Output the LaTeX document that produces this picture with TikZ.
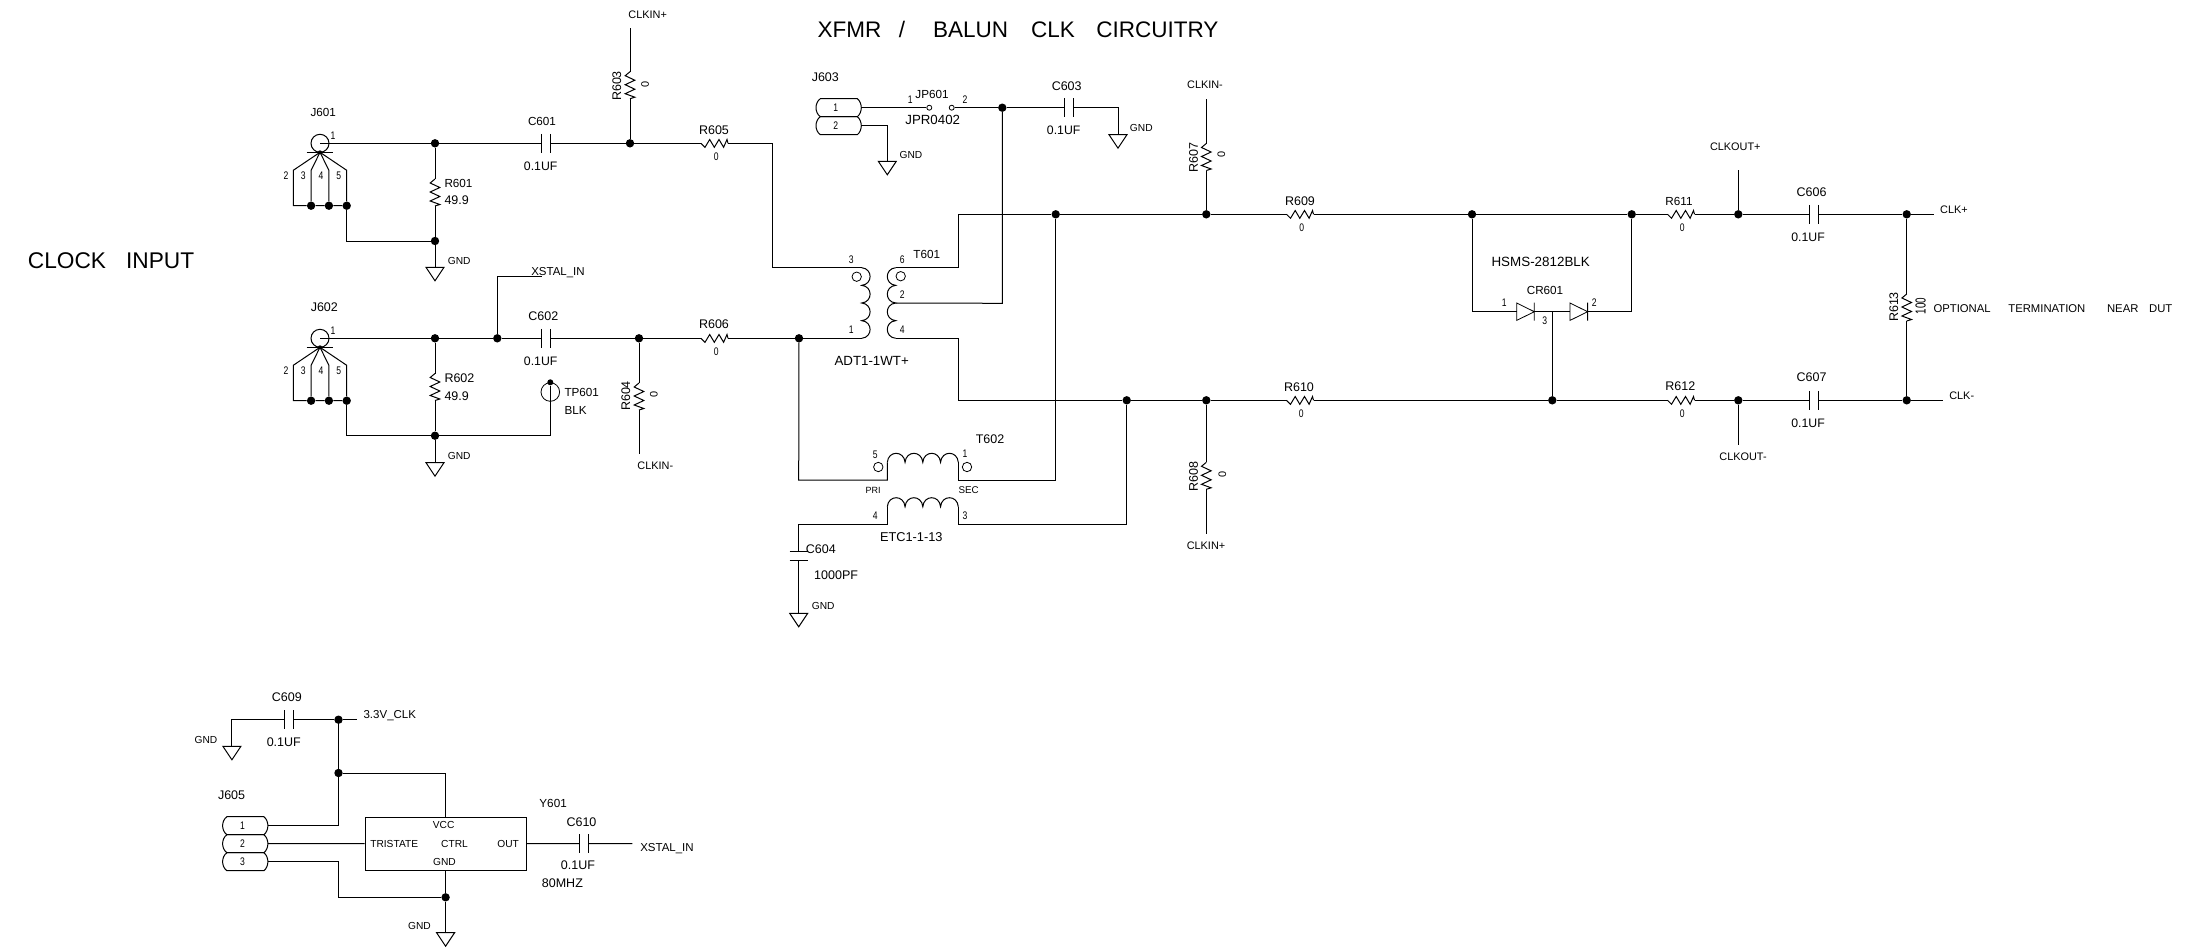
\documentclass[tikz,border=0pt]{standalone}
\usepackage{fontspec}
\setmainfont{Liberation Sans}
\newcounter{tn}
\newcommand\putlab[3]{\stepcounter{tn}\node[#1] (t\arabic{tn}) at (#2) {#3};}
\newcommand\pinn[1]{\scalebox{.78}[1]{#1}}
\tikzset{
  wire/.style={line width=1pt,line join=miter},
  junc/.style={circle,fill=black,draw=none,inner sep=0pt,minimum size=8.4pt},
  opin/.style={circle,draw,fill=white,line width=.8pt,inner sep=0pt,minimum size=#1},
  lab/.style={inner sep=0pt,font=\fontsize{12.5}{13}\selectfont,text height=9pt,text depth=0pt},
  labn/.style={lab,font=\fontsize{11.7}{12}\selectfont},
  val/.style={lab,font=\fontsize{12.3}{13}\selectfont},
  sig/.style={inner sep=0pt,font=\fontsize{10.9}{11}\selectfont,text height=7.8pt,text depth=0pt},
  gn/.style={sig,font=\fontsize{10.2}{11}\selectfont},
  pin/.style={inner sep=0pt,font=\fontsize{11}{12}\selectfont,text height=8pt,text depth=0pt},
  pics/resh/.style={code={
    \coordinate (-a) at (0,0); \coordinate (-b) at (27,0);
    \draw[wire] (0,0)--(4,4)--(8.7,-3.8)--(13.3,4)--(18,-3.8)--(22.6,4)--(26,-3.8)--(27,0);}},
  pics/resv/.style={code={
    \coordinate (-a) at (0,0); \coordinate (-b) at (0,27);
    \draw[wire] (0,0)--(-4.8,4)--(4.8,8.5)--(-4.8,13)--(4.8,17.5)--(-4.8,22)--(4.8,25.5)--(0,27);}},
  pics/caph/.style={code={
    \coordinate (-a) at (-4.5,0); \coordinate (-b) at (4.5,0);
    \draw[wire] (-4.5,-9.5)--(-4.5,9.5) (4.5,-9.5)--(4.5,9.5);}},
  pics/capv/.style={code={
    \coordinate (-a) at (0,-4.2); \coordinate (-b) at (0,4.2);
    \draw[wire] (-9,-4.2)--(9,-4.2) (-9,4.2)--(9,4.2);}},
  pics/gnd/.style={code={
    \coordinate (-t) at (0,0);
    \draw[wire] (-9,0)--(9,0)--(0,13.5)--cycle;}},
  pics/diode/.style={code={
    \coordinate (-a) at (0,0); \coordinate (-b) at (17.6,0);
    \draw[wire,line width=.8pt] (0,-8.7)--(17.6,0)--(0,8.7)--cycle (17.6,-9)--(17.6,9);}},
  pics/coilv/.style={code={
    \coordinate (-a) at (0,0); \coordinate (-m) at (0,35.3); \coordinate (-b) at (0,70.6);
    \draw[wire] (0,0) .. controls (#1*11.2,1) and (#1*11.2,16.6) .. (0,17.65)
      .. controls (#1*11.2,18.6) and (#1*11.2,34.3) .. (0,35.3)
      .. controls (#1*11.2,36.3) and (#1*11.2,51.9) .. (0,52.95)
      .. controls (#1*11.2,53.9) and (#1*11.2,69.6) .. (0,70.6);}},
  pics/coilh/.style={code={
    \coordinate (-a) at (0,0); \coordinate (-b) at (71,0);
    \draw[wire] (0,0) .. controls (1,-12) and (16.7,-12) .. (17.75,0)
      .. controls (18.8,-12) and (34.4,-12) .. (35.5,0)
      .. controls (36.5,-12) and (52.2,-12) .. (53.25,0)
      .. controls (54.3,-12) and (70,-12) .. (71,0);}},
  pics/pill/.style={code={
    \coordinate (-e) at (0,0);
    \draw[wire] (-4,-9) -- (-41,-9) .. controls (-44,-7) and (-45.3,-3) .. (-45.3,0)
      .. controls (-45.3,3) and (-44,7) .. (-41,9) -- (-4,9)
      .. controls (-1.3,7) and (0,3) .. (0,0) .. controls (0,-3) and (-1.3,-7) .. (-4,-9) -- cycle;
    \node[pin] (-n) at (-25.5,0) {\pinn{#1}};}},
  pics/jack/.style={code={
    \coordinate (-s) at (0,0);
    \draw[wire] (0,0) circle[radius=9];
    \draw[wire] (-13.3,9)--(13.3,9);
    \fill (0,9) circle[radius=2];
    \node[junc] (-j3) at (-8.9,62.4) {};
    \node[junc] (-j4) at (8.9,62.4) {};
    \node[junc] (-j5) at (26.7,62.4) {};
    \coordinate (-j2) at (-26.7,62.4);
    \coordinate (-f) at (0,9);
    \draw[wire] (-f)--(-26.7,27)--(-j2)--(-j3)--(-j4)--(-j5);
    \draw[wire] (-f)--(26.7,27)--(-j5);
    \draw[wire] (-f)--(-8.9,27)--(-j3) (-f)--(8.9,27)--(-j4);
    \node[pin] (-n1) at (13,-8.3) {\pinn{1}};
    \node[pin] (-n2) at (-34,32.4) {\pinn{2}};
    \node[pin] (-n3) at (-16.7,32.4) {\pinn{3}};
    \node[pin] (-n4) at (1,32.4) {\pinn{4}};
    \node[pin] (-n5) at (18.7,32.4) {\pinn{5}};}},
}
\begin{document}
\begin{tikzpicture}[x=1pt,y=-1pt]
\useasboundingbox (0,0) rectangle (2188,951);

% junctions
\foreach \n/\p in {a1/{435,143.3},a2/{630,143.3},a3/{435,241},
  b1/{435,338.3},b2/{497.3,338.3},b3/{639,338.3},b4/{435,435.7},b5/{799,338.3},
  c1/{1002.3,107.7},d1/{1055.7,214.3},d2/{1206.3,214.3},d3/{1472,214.3},d4/{1631.7,214.3},d5/{1738.3,214.3},d6/{1906.7,214.3},
  e1/{1126.7,400.3},e2/{1206.3,400.3},e3/{1552.3,400.3},e4/{1738.3,400.3},e5/{1906.7,400.3},
  f1/{338.5,719.7},f2/{338.5,773},f3/{445.6,897.3}}
  {\node[junc] (\n) at (\p) {};}

% components
\pic (J601) at (320,143.3) {jack};
\pic (J602) at (320,338.3) {jack};
\pic (R601) at (435,179) {resv};
\pic (R602) at (435,373.5) {resv};
\pic (R603) at (630,71.7) {resv};
\pic (R604) at (639,383) {resv};
\pic (R605) at (701,143.3) {resh};
\pic (R606) at (701,338.3) {resh};
\pic (R607) at (1206.3,143.5) {resv};
\pic (R608) at (1206.3,462.3) {resv};
\pic (R609) at (1286.5,214.3) {resh};
\pic (R610) at (1286.5,400.3) {resh};
\pic (R611) at (1667.5,214.3) {resh};
\pic (R612) at (1667.5,400.3) {resh};
\pic (R613) at (1906.7,294) {resv};
\pic (C601) at (546.2,143.3) {caph};
\pic (C602) at (546.2,338.3) {caph};
\pic (C603) at (1069,107.7) {caph};
\pic (C604) at (798.7,555.8) {capv};
\pic (C606) at (1814,214.3) {caph};
\pic (C607) at (1814,400.3) {caph};
\pic (C609) at (289.4,719.7) {caph};
\pic (C610) at (583.6,843.7) {caph};
\pic (G1) at (435,267.3) {gnd};
\pic (G2) at (435,462.7) {gnd};
\pic (G3) at (887.3,161.3) {gnd};
\pic (G4) at (1118,134.7) {gnd};
\pic (G5) at (798.7,613.3) {gnd};
\pic (G6) at (231.9,746.3) {gnd};
\pic (G7) at (445.6,932.7) {gnd};
\pic (TP) at (861.7,267.7) {coilv=1};
\pic (TS) at (895.7,267.7) {coilv=-1};
\pic (BP) at (887.3,462.3) {coilh};
\pic (BS) at (887.3,506.7) {coilh};
\pic (D1) at (1516.7,311.7) {diode};
\pic (D2) at (1570,311.7) {diode};
\pic (J3a) at (861.3,107.7) {pill=1};
\pic (J3b) at (861.3,125.7) {pill=2};
\pic (J5a) at (267.9,825.7) {pill=1};
\pic (J5b) at (267.9,843.7) {pill=2};
\pic (J5c) at (267.9,861.7) {pill=3};
\node[draw,line width=1pt,inner sep=0pt,minimum width=160.9pt,minimum height=53.3pt] (Y601) at (445.6,843.65) {};
\node[opin=18.6pt,fill=none] (tp) at (550.3,392) {};
\node[junc,minimum size=6pt] (tpd) at (550.3,382.3) {};
\node[opin=5pt] (jl) at (929.3,107.7) {};
\node[opin=5pt] (jr) at (951.7,107.7) {};
\node[opin=9.4pt] (o1) at (856.7,276.7) {};
\node[opin=9.4pt] (o2) at (900.7,276.2) {};
\node[opin=9.4pt] (o3) at (878.3,467) {};
\node[opin=9.4pt] (o4) at (967,467) {};

% free ends and bends
\foreach \n/\p in {k1/{772,267.7},k2/{958.3,267.7},k3/{958.3,338.3},k4/{958.3,400.3},k5/{1002.3,303.3},
  k6/{798.7,480},k7/{887.3,480},k8/{958.3,480},k9/{1055.7,480},k10/{798.7,524.3},k11/{887.3,524.3},k12/{958.3,524.3},k13/{1126.7,524.3},
  m1/{630,28.3},m2/{639,454},m3/{1206.3,99},m4/{1206.3,534},m5/{1738.3,170},m6/{1738.3,445},m7/{1934,214.3},m8/{1943,400.3},
  m9/{497.3,276.7},m10/{541.7,276.7},m11/{356.5,719.7},m12/{632.4,843.7},m13/{550.3,435.7},m14/{1552.3,311.7},
  m15/{1118,107.7},m16/{887.3,125.7},m17/{231.9,719.7},m18/{338.5,825.7},m19/{338.5,861.7},m20/{338.5,897.3}}
  {\coordinate (\n) at (\p);}

% wires, upper input
\draw[wire] (J601-s)--(a1)--(C601-a) (C601-b)--(a2)--(R605-a);
\draw[wire] (R605-b)-|(k1)--(TP-a);
\draw[wire] (m1)--(R603-a) (R603-b)--(a2);
\draw[wire] (a1)--(R601-a) (R601-b)--(a3)--(G1-t);
\draw[wire] (J601-j5)|-(a3);
% wires, lower input
\draw[wire] (J602-s)--(b1)--(b2)--(C602-a) (C602-b)--(b3)--(R606-a);
\draw[wire] (R606-b)--(b5)--(TP-b);
\draw[wire] (b2)--(m9)--(m10);
\draw[wire] (b1)--(R602-a) (R602-b)--(b4)--(G2-t);
\draw[wire] (J602-j5)|-(b4)--(m13);
\draw[wire] (tpd)--(m13);
\draw[wire] (b3)--(R604-a) (R604-b)--(m2);
% J603 and JP601
\draw[wire] (J3a-e)--(jl) (jr)--(c1)--(C603-a) (C603-b)--(m15)--(G4-t);
\draw[wire] (J3b-e)--(m16)--(G3-t);
% transformer
\draw[wire] (TS-a)--(k2)--(k2 |- d1)--(d1)--(d2)--(R609-a);
\draw[wire] (TS-m)--(k5)--(c1);
\draw[wire] (TS-b)--(k3)--(k4)--(e1)--(e2)--(R610-a);
\draw[wire] (b5)--(k6)--(k7)--(BP-a);
\draw[wire] (BP-b)--(k8)--(k9)--(d1);
\draw[wire] (k10)--(k11)--(BS-a) (BS-b)--(k12)--(k13)--(e1);
\draw[wire] (k10)--(C604-a) (C604-b)--(G5-t);
\draw[wire] (m3)--(R607-a) (R607-b)--(d2);
\draw[wire] (e2)--(R608-a) (R608-b)--(m4);
% output
\draw[wire] (R609-b)--(d3)--(d4)--(R611-a) (R611-b)--(d5)--(C606-a) (C606-b)--(d6)--(m7);
\draw[wire] (R610-b)--(e3)--(R612-a) (R612-b)--(e4)--(C607-a) (C607-b)--(e5)--(m8);
\draw[wire] (d3)|-(D1-a) (D1-b)--(D2-a) (D2-b)-|(d4);
\draw[wire] (e3)--(m14);
\draw[wire] (m5)--(d5) (e4)--(m6);
\draw[wire] (d6)--(R613-a) (R613-b)--(e5);
% oscillator
\draw[wire] (G6-t)--(m17)--(C609-a) (C609-b)--(f1)--(m11);
\draw[wire] (f1)--(f2)--(m18)--(J5a-e);
\draw[wire] (f2)-|(Y601.north);
\draw[wire] (J5b-e)--(Y601.west);
\draw[wire] (J5c-e)--(m19)--(m20)--(f3);
\draw[wire] (Y601.south)--(f3)--(G7-t);
\draw[wire] (Y601.east)--(C610-a) (C610-b)--(m12);

% headings
\putlab{inner sep=0pt,anchor=west,font=\fontsize{22.5}{24}\selectfont,text height=16pt,text depth=0pt}{817.3,29.3}{XFMR\hspace{17.7pt}/\hspace{28pt}BALUN\hspace{23pt}CLK\hspace{21.3pt}CIRCUITRY}
\putlab{inner sep=0pt,anchor=west,font=\fontsize{22.7}{24}\selectfont,text height=16.2pt,text depth=0pt}{27.7,260}{CLOCK\hspace{20pt}INPUT}
\putlab{lab,anchor=west,font=\fontsize{11.3}{12}\selectfont}{1933.3,308.3}{OPTIONAL\hspace{17.7pt}TERMINATION\hspace{21.7pt}NEAR\hspace{10.7pt}DUT}

% labels
\putlab{labn}{323.3,111.7}{J601}
\putlab{lab}{324.3,306.7}{J602}
\putlab{labn,anchor=west}{444.3,182.7}{R601}
\putlab{lab,anchor=west}{444.3,200.3}{49.9}
\putlab{lab,anchor=west}{444.3,377.7}{R602}
\putlab{lab,anchor=west}{444.3,395.7}{49.9}
\putlab{gn,anchor=west}{447.7,260.3}{GND}
\putlab{gn,anchor=west}{447.7,455.3}{GND}
\putlab{labn}{542,120.7}{C601}
\putlab{val}{540.7,165.7}{0.1UF}
\putlab{lab}{543.3,315.7}{C602}
\putlab{val}{540.7,360.7}{0.1UF}
\putlab{lab,font=\fontsize{11.5}{12}\selectfont}{558,271.3}{XSTAL\_IN}
\putlab{labn,anchor=west}{564.3,391.7}{TP601}
\putlab{labn,anchor=west}{564.3,409.7}{BLK}
\putlab{sig}{647.7,14.3}{CLKIN+}
\putlab{lab,rotate=90}{616.7,86}{R603}
\putlab{sig,rotate=90}{645,84}{0}
\putlab{lab,rotate=90}{625.7,396}{R604}
\putlab{sig,rotate=90}{653.7,394}{0}
\putlab{sig}{655.3,466}{CLKIN-}
\putlab{lab}{714,129.7}{R605}
\putlab{pin}{716.3,156.7}{\pinn{0}}
\putlab{lab}{714,324.3}{R606}
\putlab{pin}{716.3,351.7}{\pinn{0}}
\putlab{lab}{825.3,76.7}{J603}
\putlab{labn}{932,93.7}{JP601}
\putlab{pin}{910.3,99}{\pinn{1}}
\putlab{pin}{965,99}{\pinn{2}}
\putlab{lab,font=\fontsize{13.3}{14}\selectfont}{932.7,120.3}{JPR0402}
\putlab{gn}{911,154.3}{GND}
\putlab{lab}{1066.7,85.7}{C603}
\putlab{val}{1063.7,129.7}{0.1UF}
\putlab{gn}{1141.3,127.3}{GND}
\putlab{sig}{1205,85}{CLKIN-}
\putlab{lab,rotate=90}{1193.3,157.3}{R607}
\putlab{sig,rotate=90}{1221.3,154.7}{0}
\putlab{labn}{926.7,253.7}{T601}
\putlab{pin}{902.3,259.3}{\pinn{6}}
\putlab{pin}{902.3,294.7}{\pinn{2}}
\putlab{pin}{902.3,329.3}{\pinn{4}}
\putlab{pin}{851.3,259.3}{\pinn{3}}
\putlab{pin}{851.3,329.3}{\pinn{1}}
\putlab{lab,font=\fontsize{13.3}{14}\selectfont}{871.7,360.7}{ADT1-1WT+}
\putlab{lab}{990,439.3}{T602}
\putlab{pin}{875.3,454}{\pinn{5}}
\putlab{pin}{965,453.7}{\pinn{1}}
\putlab{sig,font=\fontsize{9}{10}\selectfont}{873,489.3}{PRI}
\putlab{sig,font=\fontsize{9.8}{10}\selectfont}{968.7,489.3}{SEC}
\putlab{pin}{875.3,515.7}{\pinn{4}}
\putlab{pin}{965,515.7}{\pinn{3}}
\putlab{lab,font=\fontsize{12.8}{14}\selectfont}{911.3,537.3}{ETC1-1-13}
\putlab{lab,anchor=west}{805.7,548.7}{C604}
\putlab{lab,anchor=west}{814,574.7}{1000PF}
\putlab{gn,anchor=west}{811.7,606}{GND}
\putlab{lab}{1300,200.7}{R609}
\putlab{pin}{1301.7,227.7}{\pinn{0}}
\putlab{lab}{1299,386.7}{R610}
\putlab{pin}{1301.3,413.7}{\pinn{0}}
\putlab{lab,rotate=90}{1193.3,476.7}{R608}
\putlab{sig,rotate=90}{1222.3,474.3}{0}
\putlab{sig}{1206,546}{CLKIN+}
\putlab{lab,font=\fontsize{13.4}{14}\selectfont}{1540.7,262.3}{HSMS-2812BLK}
\putlab{labn}{1545,289.7}{CR601}
\putlab{pin}{1504.3,302.7}{\pinn{1}}
\putlab{pin}{1594.3,302.7}{\pinn{2}}
\putlab{pin}{1544.7,320.7}{\pinn{3}}
\putlab{labn}{1679,200.7}{R611}
\putlab{pin}{1682.3,227.7}{\pinn{0}}
\putlab{lab}{1680.3,386.3}{R612}
\putlab{pin}{1682.3,413.7}{\pinn{0}}
\putlab{sig}{1735.3,147}{CLKOUT+}
\putlab{sig}{1743,457}{CLKOUT-}
\putlab{lab}{1811.5,191.7}{C606}
\putlab{val}{1808,236.7}{0.1UF}
\putlab{lab}{1811.5,377.3}{C607}
\putlab{val}{1808,422.7}{0.1UF}
\putlab{sig}{1954,209.3}{CLK+}
\putlab{sig}{1961.7,395.3}{CLK-}
\putlab{lab,rotate=90}{1893.7,307}{R613}
\putlab{lab,rotate=90,font=\fontsize{14.5}{15}\selectfont,text height=10.5pt}{1920.3,306}{\scalebox{.68}[1]{100}}
% oscillator labels
\putlab{lab}{286.9,696.7}{C609}
\putlab{lab}{283.8,741.7}{0.1UF}
\putlab{sig,anchor=west,font=\fontsize{11.5}{12}\selectfont}{363.4,714.3}{3.3V\_CLK}
\putlab{gn}{206,739.3}{GND}
\putlab{lab}{231.6,795}{J605}
\putlab{gn}{443.7,824.3}{VCC}
\putlab{gn}{394.2,843.3}{TRISTATE}
\putlab{gn}{454.5,843.3}{CTRL}
\putlab{gn}{508.1,843.3}{OUT}
\putlab{gn}{444.4,861.3}{GND}
\putlab{labn}{553.1,803}{Y601}
\putlab{lab}{581.5,822}{C610}
\putlab{lab}{578,865.3}{0.1UF}
\putlab{lab}{562.4,882.7}{80MHZ}
\putlab{lab,font=\fontsize{11.5}{12}\selectfont}{667,847}{XSTAL\_IN}
\putlab{gn}{419.5,925.3}{GND}
\end{tikzpicture}
\end{document}
